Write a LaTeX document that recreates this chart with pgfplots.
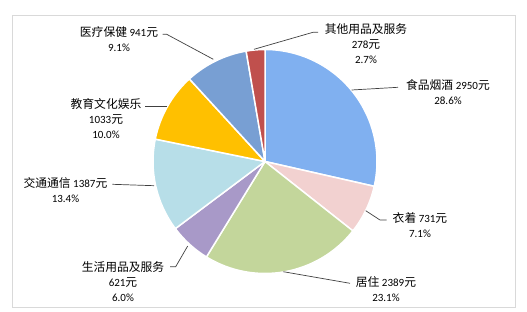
\documentclass[border=0pt]{standalone}
\usepackage{fontspec}
\setmainfont{Carlito}
\newfontfamily\cjk[Scale=1.07]{Noto Sans CJK SC}
\usepackage{pgfplots}
\pgfplotsset{compat=1.18}
\usepackage{pgfplotstable}

\definecolor{pc0}{HTML}{80B0F0}
\definecolor{pc1}{HTML}{F2D1D0}
\definecolor{pc2}{HTML}{C3D69B}
\definecolor{pc3}{HTML}{A899C8}
\definecolor{pc4}{HTML}{B7DEE8}
\definecolor{pc5}{HTML}{FFC000}
\definecolor{pc6}{HTML}{789FD3}
\definecolor{pc7}{HTML}{C0504D}

\pgfplotstableread{
item value
food 2950
cloth 731
house 2389
daily 621
trans 1387
edu 1033
med 941
other 278
}\pietable

\gdef\pieTotal{0}
\pgfplotstableforeachcolumnelement{value}\of\pietable\as\pieV{%
  \pgfmathsetmacro\pieTmp{\pieTotal+\pieV}\global\let\pieTotal\pieTmp}
\gdef\pieAcc{0}
\pgfplotstableforeachcolumnelement{value}\of\pietable\as\pieV{%
  \pgfmathsetmacro\pieSa{90-360*(\pieAcc/\pieTotal)}%
  \pgfmathsetmacro\pieNew{\pieAcc+\pieV}%
  \pgfmathsetmacro\pieEa{90-360*(\pieNew/\pieTotal)}%
  \expandafter\xdef\csname pieS\pgfplotstablerow\endcsname{\pieSa}%
  \expandafter\xdef\csname pieE\pgfplotstablerow\endcsname{\pieEa}%
  \global\let\pieAcc\pieNew}

\newcommand\lbl{\fontsize{11bp}{15bp}\selectfont}

\begin{document}
\begin{tikzpicture}
\begin{axis}[
  scale only axis, width=527bp, height=312bp,
  xmin=0, xmax=527, ymin=0, ymax=312,
  hide axis, clip=false,
]
\path[use as bounding box] (axis cs:0,0) rectangle (axis cs:527,312);
\draw[color=black!15, line width=0.8bp] (axis cs:12,5) rectangle (axis cs:515,297);
\pgfplotsinvokeforeach{0,...,7}{
  \filldraw[fill=pc#1, draw=white, line width=1.5bp, line join=round]
   (axis cs:265,150.5) -- ++(\csname pieS#1\endcsname:112bp)
   arc[start angle=\csname pieS#1\endcsname, end angle=\csname pieE#1\endcsname, radius=112bp] -- cycle;
}
% leader lines
\draw[black!75, line width=0.7bp] (axis cs:254,262.7) -- (axis cs:313,279.7) -- (axis cs:318,279.7);
\draw[black!75, line width=0.7bp] (axis cs:351.7,222) -- (axis cs:398,224.7);
\draw[black!75, line width=0.7bp] (axis cs:365.7,101.3) -- (axis cs:380,92) -- (axis cs:386.7,92);
\draw[black!75, line width=0.7bp] (axis cs:283.3,40.3) -- (axis cs:350,28.7);
\draw[black!75, line width=0.7bp] (axis cs:187.7,66) -- (axis cs:175.7,45.3) -- (axis cs:170,45.3);
\draw[black!75, line width=0.7bp] (axis cs:112.3,127.7) -- (axis cs:154,126.3);
\draw[black!75, line width=0.7bp] (axis cs:145,206) -- (axis cs:166.7,206);
\draw[black!75, line width=0.7bp] (axis cs:162.7,277.7) -- (axis cs:166.7,277.7) -- (axis cs:213.3,252.7);
% labels
\node[align=center, font=\lbl] at (axis cs:366,268.7) {{\cjk 其他用品及服务}\\278{\cjk 元}\\2.7\%};
\node[align=center, font=\lbl] at (axis cs:448,220) {{\cjk 食品烟酒} 2950{\cjk 元}\\28.6\%};
\node[align=center, font=\lbl] at (axis cs:420,86.5) {{\cjk 衣着} 731{\cjk 元}\\7.1\%};
\node[align=center, font=\lbl] at (axis cs:386,23.2) {{\cjk 居住} 2389{\cjk 元}\\23.1\%};
\node[align=center, font=\lbl] at (axis cs:123,30) {{\cjk 生活用品及服务}\\621{\cjk 元}\\6.0\%};
\node[align=center, font=\lbl] at (axis cs:65.5,122.2) {{\cjk 交通通信} 1387{\cjk 元}\\13.4\%};
\node[align=center, font=\lbl] at (axis cs:106,193.2) {{\cjk 教育文化娱乐}\\1033{\cjk 元}\\10.0\%};
\node[align=center, font=\lbl] at (axis cs:119,272.5) {{\cjk 医疗保健} 941{\cjk 元}\\9.1\%};
\end{axis}
\end{tikzpicture}
\end{document}
